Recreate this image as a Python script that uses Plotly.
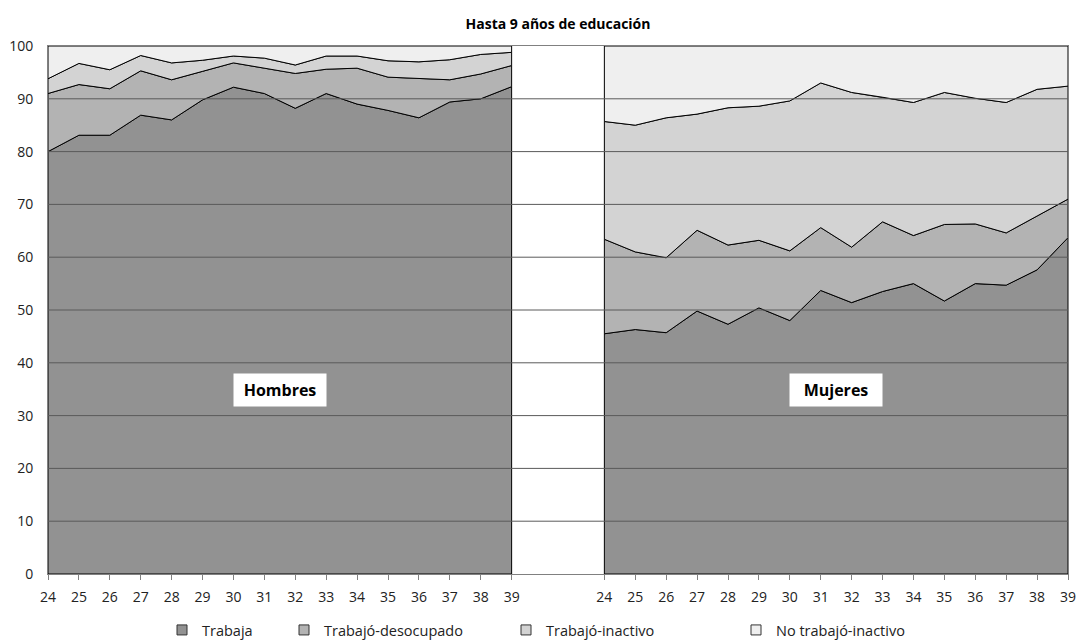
import plotly.graph_objects as go
import numpy as np

# ---------------- data ----------------
edades = [24, 25, 26, 27, 28, 29, 30, 31, 32, 33, 34, 35, 36, 37, 38, 39]
series_names = ["Trabaja", "Trabajó-desocupado", "Trabajó-inactivo", "No trabajó-inactivo"]
series_colors = ["#929292", "#b3b3b3", "#d3d3d3", "#efefef"]

# Hombres (shares, %)
h_trabaja = [80.0, 83.1, 83.1, 86.9, 86.0, 89.8, 92.2, 91.0, 88.2, 91.0, 89.0, 87.8, 86.4, 89.4, 90.0, 92.3]
h_desocupado = [11.0, 9.6, 8.8, 8.4, 7.6, 5.4, 4.6, 4.8, 6.6, 4.6, 6.8, 6.3, 7.4, 4.2, 4.7, 4.0]
h_inactivo = [2.8, 4.0, 3.6, 2.9, 3.2, 2.1, 1.3, 1.9, 1.6, 2.5, 2.3, 3.1, 3.2, 3.8, 3.7, 2.5]
h_no_trabajo = [6.2, 3.3, 4.5, 1.8, 3.2, 2.7, 1.9, 2.3, 3.6, 1.9, 1.9, 2.8, 3.0, 2.6, 1.6, 1.2]

# Mujeres (shares, %)
m_trabaja = [45.5, 46.3, 45.7, 49.8, 47.3, 50.4, 48.0, 53.7, 51.4, 53.5, 55.0, 51.7, 55.0, 54.7, 57.6, 63.7]
m_desocupado = [17.9, 14.7, 14.2, 15.3, 15.0, 12.8, 13.2, 11.9, 10.5, 13.2, 9.1, 14.5, 11.3, 9.9, 10.2, 7.3]
m_inactivo = [22.3, 24.0, 26.5, 22.0, 26.0, 25.4, 28.4, 27.4, 29.3, 23.6, 25.2, 25.0, 23.8, 24.7, 24.0, 21.4]
m_no_trabajo = [14.3, 15.0, 13.6, 12.9, 11.7, 11.4, 10.4, 7.0, 8.8, 9.7, 10.7, 8.8, 9.9, 10.7, 8.2, 7.6]

paneles = ["Hombres", "Mujeres"]
titulo = "Hasta 9 años de educación"
yticks = [0, 10, 20, 30, 40, 50, 60, 70, 80, 90, 100]

# ---------------- figure ----------------
FONT = "Open Sans"
n = len(edades)
gap = 2
pos_h = list(range(n))
pos_m = [n + gap + i for i in range(n)]

fig = go.Figure()

def add_panel(pos, layers):
    lower = np.zeros(n)
    for vals, color in zip(layers, series_colors):
        upper = lower + np.array(vals)
        upper = np.minimum(upper, 100.0)
        xs = list(pos) + list(pos[::-1]) + [pos[0]]
        ys = list(upper) + list(lower[::-1]) + [upper[0]]
        fig.add_trace(go.Scatter(
            x=xs, y=ys, mode="lines", fill="toself", fillcolor=color,
            line=dict(color="black", width=1), showlegend=False, hoverinfo="skip"))
        lower = upper

add_panel(pos_h, [h_trabaja, h_desocupado, h_inactivo, h_no_trabajo])
add_panel(pos_m, [m_trabaja, m_desocupado, m_inactivo, m_no_trabajo])

FW, FH = 1080, 641

# legend entries, each in its own legend for Excel-like placement (px of legend left)
legend_px = [162, 284, 506, 736]
legend_keys = ["legend", "legend2", "legend3", "legend4"]
for name, color, key in zip(series_names, series_colors, legend_keys):
    fig.add_trace(go.Scatter(
        x=[None], y=[None], mode="markers", name=name, legend=key,
        marker=dict(symbol="square", size=10, color=color, line=dict(color="#333333", width=1))))

# gridlines drawn above the areas
for v in yticks[1:-1]:
    fig.add_shape(type="line", xref="paper", yref="y", x0=0, x1=1, y0=v, y1=v,
                  line=dict(color="#5a5a5a", width=1), layer="above")

# panel labels
for label, pos in zip(paneles, [pos_h, pos_m]):
    fig.add_annotation(x=(pos[0] + pos[-1]) / 2, y=34.8, xref="x", yref="y", text=f"<b>{label}</b>",
                       showarrow=False, bgcolor="white", width=90, height=30,
                       font=dict(family=FONT, size=16, color="black"))

tickvals = pos_h + pos_m
ticktext = [str(e) for e in edades] * 2

# plot area in px: x 48..1068, y 46..574
L, T = 48, 46
R = FW - 1068
B = FH - 574

layout_legends = {}
for key, px in zip(legend_keys, legend_px):
    layout_legends[key] = dict(
        x=px / FW, y=1 - 630 / FH, xref="container", yref="container",
        xanchor="left", yanchor="middle",
        orientation="h", bgcolor="rgba(0,0,0,0)", font=dict(family=FONT, size=14.5, color="#222222"),
        itemwidth=30)

fig.update_layout(
    width=FW, height=FH,
    margin=dict(l=L, r=R, t=T, b=B, autoexpand=False),
    paper_bgcolor="white", plot_bgcolor="white",
    title=dict(text=f"<b>{titulo}</b>", x=0.5, xref="paper", xanchor="center",
               y=1 - 24 / FH, yanchor="middle", font=dict(family=FONT, size=14, color="black")),
    xaxis=dict(range=[0, pos_m[-1]], tickvals=tickvals, ticktext=ticktext, showgrid=False,
               zeroline=False, showline=True, linecolor="#808080", linewidth=1, mirror=True,
               ticks="outside", ticklen=5, tickcolor="#808080", automargin=False,
               ticklabelstandoff=5,
               tickfont=dict(family=FONT, size=14, color="#222222")),
    yaxis=dict(range=[0, 100], tickvals=yticks, showgrid=False, zeroline=False,
               showline=True, linecolor="#808080", linewidth=1, mirror=True,
               ticks="", ticklabelstandoff=11, automargin=False,
               tickfont=dict(family=FONT, size=14, color="#222222")),
    **layout_legends,
)

fig.write_html(
    "out.html",
    config={"displayModeBar": False},
    post_script="document.body.style.margin='0px'; document.body.style.overflow='hidden';",
)
